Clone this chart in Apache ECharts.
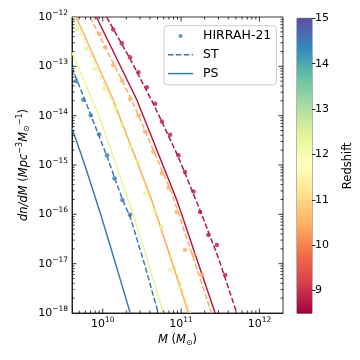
<!DOCTYPE html>
<html>
<head>
<meta charset="utf-8">
<script src="https://cdn.jsdelivr.net/npm/echarts@6/dist/echarts.min.js"></script>
<style>
html, body { margin: 0; padding: 0; background: #fff; }
#chart { width: 360px; height: 360px; }
</style>
</head>
<body>
<div id="chart"></div>
<script>
// axis ranges
var massRange = [4.05e9, 2.0e12];
var densRange = [1e-18, 1e-12];
var zRange = [8.5, 15];
var zTicks = [9, 10, 11, 12, 13, 14, 15];

// z ~ 14.5 (blue)
var psZ145 = [[4.05e9, 5.6e-15], [5.9e9, 1e-15], [9.4e9, 1e-16], [1.46e10, 1e-17], [2.24e10, 1e-18]];
var stZ145 = [[4.05e9, 9.5e-14], [7.1e9, 1e-14], [1.15e10, 1.4e-15], [1.78e10, 2e-16], [2.24e10, 8.9e-17], [3.4e10, 1e-17], [5.1e10, 1e-18]];
var simZ145 = [[4.56e9, 5.0e-14], [5.65e9, 2.1e-14], [7.03e9, 1.02e-14], [8.97e9, 4.2e-15], [1.135e10, 1.58e-15], [1.41e10, 5.4e-16], [1.78e10, 1.95e-16], [2.23e10, 9.8e-17]];

// z ~ 12.4 (pale yellow)
var psZ124 = [[4.05e9, 1.9e-13], [8.8e9, 1.07e-14], [2.12e10, 1.95e-16], [2.51e10, 8.9e-17], [5.94e10, 1e-18]];
var stZ124 = [[4.17e9, 1e-12], [7.94e9, 1.12e-13], [1.58e10, 1e-14], [2.82e10, 1e-15], [5.0e10, 7.9e-17], [8.5e10, 7.9e-18], [1.32e11, 1e-18]];
var simZ124 = [[4.68e9, 5.6e-13], [6.03e9, 2.24e-13], [7.76e9, 8.9e-14], [1.05e10, 3.5e-14], [1.44e10, 1.41e-14], [1.75e10, 6.5e-15], [2.23e10, 2.34e-15], [2.85e10, 1.17e-15], [3.47e10, 2.7e-16], [4.56e10, 1.17e-16], [5.66e10, 5.6e-17], [7.24e10, 7.4e-18], [9.5e10, 3.3e-18]];

// z ~ 10.5 (orange)
var psZ105 = [[4.57e9, 1e-12], [1.36e10, 2.1e-14], [4.23e10, 1.95e-16], [1.24e11, 1e-18]];
var stZ105 = [[6.9e9, 1e-12], [2.34e10, 2.1e-14], [7.6e10, 2.7e-16], [2.45e11, 1e-18]];
var simZ105 = [[9.06e9, 4.5e-13], [1.07e10, 2.43e-13], [1.36e10, 1.07e-13], [1.75e10, 5.2e-14], [2.23e10, 2.14e-14], [2.85e10, 1.02e-14], [3.47e10, 4.7e-15], [4.43e10, 1.86e-15], [5.66e10, 6.8e-16], [6.89e10, 3.4e-16], [8.81e10, 1.12e-16], [1.12e11, 1.9e-17], [1.44e11, 1.5e-17], [1.84e11, 5.9e-18]];

// z ~ 8.8 (crimson)
var psZ88 = [[8.3e9, 1e-12], [2.72e10, 2.1e-14], [8.81e10, 1.95e-16], [2.72e11, 1e-18]];
var stZ88 = [[1.12e10, 1e-12], [2.24e10, 1.41e-13], [4.57e10, 1.58e-14], [9.3e10, 1.41e-15], [1.78e11, 1.12e-16], [3.02e11, 1.26e-17], [5.14e11, 1e-18]];
var simZ88 = [[1.36e10, 5.6e-13], [1.75e10, 2.95e-13], [2.23e10, 1.52e-13], [2.85e10, 7.6e-14], [3.65e10, 3.76e-14], [4.66e10, 1.74e-14], [5.68e10, 7.6e-15], [7.24e10, 4.1e-15], [9.25e10, 1.58e-15], [1.12e11, 7.2e-16], [1.44e11, 2.9e-16], [1.75e11, 1.12e-16], [2.23e11, 3.8e-17], [2.86e11, 2.4e-17], [3.65e11, 5.9e-18]];

var font = 'DejaVu Sans';
var spectral = ['#9e0142', '#d53e4f', '#f46d43', '#fdae61', '#fee08b', '#ffffbf', '#e6f598', '#abdda4', '#66c2a5', '#3288bd', '#5e4fa2'];

var groups = [
  { tag: '', color: '#3c7bb7', ps: psZ145, st: stZ145, sim: simZ145 },
  { tag: ' z12', color: '#e9f69d', ps: psZ124, st: stZ124, sim: simZ124 },
  { tag: ' z10', color: '#fdb063', ps: psZ105, st: stZ105, sim: simZ105 },
  { tag: ' z9', color: '#b51a48', ps: psZ88, st: stZ88, sim: simZ88 }
];

// decade and 2..9 tick values inside a range
function logTicks(range, minor) {
  var out = [];
  var lo = Math.floor(Math.log10(range[0])), hi = Math.ceil(Math.log10(range[1]));
  for (var e = lo; e <= hi; e++) {
    var ks = minor ? [2, 3, 4, 5, 6, 7, 8, 9] : [1];
    ks.forEach(function (k) {
      var v = k * Math.pow(10, e);
      if (v > range[0] * 1.0001 && v < range[1] * 0.9999) out.push(v);
    });
  }
  return out;
}

function powLabel(v) {
  var e = Math.round(Math.log10(v));
  return '{b|10}{s|' + String(e).replace('-', '\u2212') + '}';
}

var labelRich = {
  b: { fontFamily: font, fontSize: 11, color: '#000' },
  s: { fontFamily: font, fontSize: 7.5, color: '#000', padding: [0, 0, 8, 0] }
};
var nameRich = {
  i: { fontFamily: font, fontSize: 11.5, fontStyle: 'italic', color: '#000' },
  r: { fontFamily: font, fontSize: 11.5, color: '#000' },
  p: { fontFamily: font, fontSize: 8, color: '#000', padding: [0, 0, 8, 0] },
  d: { fontFamily: font, fontSize: 8, color: '#000', padding: [6, 0, 0, 0] }
};

var black = { color: '#000', width: 0.8 };

function dataAxis(pos, range, edgeLabels) {
  return {
    type: 'log', logBase: 10, gridIndex: 0, position: pos,
    min: range[0], max: range[1],
    axisLine: { show: true, onZero: false, lineStyle: black },
    axisTick: { show: false },
    axisLabel: { show: true, formatter: powLabel, rich: labelRich, margin: pos === 'bottom' ? 3 : 4, showMinLabel: edgeLabels, showMaxLabel: edgeLabels },
    splitLine: { show: false }
  };
}

// inward tick marks as thin rect symbols sitting on the frame edges
function tickMarks(side, values, len) {
  var horiz = side === 'bottom' || side === 'top';
  var size = horiz ? [1, len] : [len, 1];
  var off = { bottom: [0, -len / 2], top: [0, len / 2], left: [len / 2, 0], right: [-len / 2, 0] }[side];
  var data = values.map(function (v) {
    if (side === 'bottom') return [v, densRange[0]];
    if (side === 'top') return [v, densRange[1]];
    if (side === 'left') return [massRange[0], v];
    return [massRange[1], v];
  });
  return {
    type: 'scatter', xAxisIndex: 0, yAxisIndex: 0, silent: true, clip: false, z: 6,
    symbol: 'rect', symbolSize: size, symbolOffset: off,
    itemStyle: { color: '#000' }, data: data
  };
}

var xAxes = [
  dataAxis('bottom', massRange, false),
  { type: 'category', gridIndex: 1, data: ['z'], show: false }
];
xAxes[0].name = '{i|M}{r| (}{i|M}{d|\u2299}{r|)}';
xAxes[0].nameLocation = 'middle';
xAxes[0].nameGap = 19;
xAxes[0].nameTextStyle = { rich: nameRich };

var yAxes = [
  dataAxis('left', densRange, true),
  {
    type: 'value', gridIndex: 1, position: 'right', min: zRange[0], max: zRange[1],
    axisLine: { show: false },
    axisTick: { show: true, inside: false, length: 3.5, lineStyle: black, customValues: zTicks },
    axisLabel: { show: true, customValues: zTicks, margin: 3, fontFamily: font, fontSize: 11, color: '#000' },
    splitLine: { show: false },
    name: 'Redshift', nameLocation: 'middle', nameRotate: 90, nameGap: 30,
    nameTextStyle: { fontFamily: font, fontSize: 11.5, color: '#000' }
  }
];
yAxes[0].name = '{i|dn/dM}{r| (}{i|Mpc}{p|\u22123}{i|M}{d|\u2299}{p|\u22121}{r|)}';
yAxes[0].nameLocation = 'middle';
yAxes[0].nameGap = 40;
yAxes[0].nameMoveOverlap = false;
yAxes[0].nameTextStyle = { rich: nameRich };

var series = [];
groups.forEach(function (g) {
  series.push({
    name: 'HIRRAH-21' + g.tag, type: 'scatter', xAxisIndex: 0, yAxisIndex: 0,
    data: g.sim, symbol: 'circle', symbolSize: 4.5, itemStyle: { color: g.color }, z: 3
  });
  series.push({
    name: 'ST' + g.tag, type: 'line', xAxisIndex: 0, yAxisIndex: 0, data: g.st,
    symbol: 'none', lineStyle: { color: g.color, width: 1.5, type: [5.5, 2.4] },
    itemStyle: { color: g.color }, z: 2
  });
  series.push({
    name: 'PS' + g.tag, type: 'line', xAxisIndex: 0, yAxisIndex: 0, data: g.ps,
    symbol: 'none', lineStyle: { color: g.color, width: 1.5 },
    itemStyle: { color: g.color }, z: 2
  });
});

var xMajor = logTicks(massRange, false), xMinor = logTicks(massRange, true);
var yMajor = logTicks(densRange, false), yMinor = logTicks(densRange, true);
['bottom', 'top'].forEach(function (s) {
  series.push(tickMarks(s, xMajor, 4.5));
  series.push(tickMarks(s, xMinor, 2.5));
});
['left', 'right'].forEach(function (s) {
  series.push(tickMarks(s, yMajor, 4.5));
  series.push(tickMarks(s, yMinor, 2.5));
});

var stops = spectral.map(function (c, i) { return { offset: i / (spectral.length - 1), color: c }; });
series.push({
  type: 'bar', xAxisIndex: 1, yAxisIndex: 1, stack: 'cb', barWidth: '100%',
  data: [zRange[0]], itemStyle: { color: 'rgba(0,0,0,0)' }, silent: true
});
series.push({
  type: 'bar', xAxisIndex: 1, yAxisIndex: 1, stack: 'cb', barWidth: '100%',
  data: [zRange[1] - zRange[0]], silent: true,
  itemStyle: { color: new echarts.graphic.LinearGradient(0, 1, 0, 0, stops) }
});

var chart = echarts.init(document.getElementById('chart'), null, { renderer: 'canvas' });
chart.setOption({
  animation: false,
  backgroundColor: '#fff',
  textStyle: { fontFamily: font },
  grid: [
    { left: 72, top: 17, width: 211, height: 296, show: true, borderColor: '#000', borderWidth: 0.8, backgroundColor: 'transparent' },
    { left: 297, top: 18.3, width: 15, height: 295, show: true, borderColor: '#444', borderWidth: 0.8, backgroundColor: 'transparent' }
  ],
  legend: {
    orient: 'vertical', left: 164, top: 25.7,
    padding: [3.8, 5, 4.7, 4],
    itemWidth: 25, itemHeight: 12, itemGap: 5.8,
    backgroundColor: 'rgba(255,255,255,0.8)', borderColor: '#cccccc', borderWidth: 1, borderRadius: 3,
    textStyle: { fontFamily: font, fontSize: 12.5, color: '#000', padding: [0, 0, 0, 5] },
    data: [
      { name: 'HIRRAH-21', icon: 'path://M0,0M25,12M10.5,6a2,2,0,1,0,4,0a2,2,0,1,0,-4,0z' },
      { name: 'ST', icon: 'path://M0,0M25,12M0,5.25L5.5,5.25L5.5,6.75L0,6.75zM7.9,5.25L13.4,5.25L13.4,6.75L7.9,6.75zM15.8,5.25L21.3,5.25L21.3,6.75L15.8,6.75zM23.7,5.25L25,5.25L25,6.75L23.7,6.75z' },
      { name: 'PS', icon: 'path://M0,0M25,12M0,5.25L25,5.25L25,6.75L0,6.75z' }
    ]
  },
  xAxis: xAxes,
  yAxis: yAxes,
  series: series
});
</script>
</body>
</html>
